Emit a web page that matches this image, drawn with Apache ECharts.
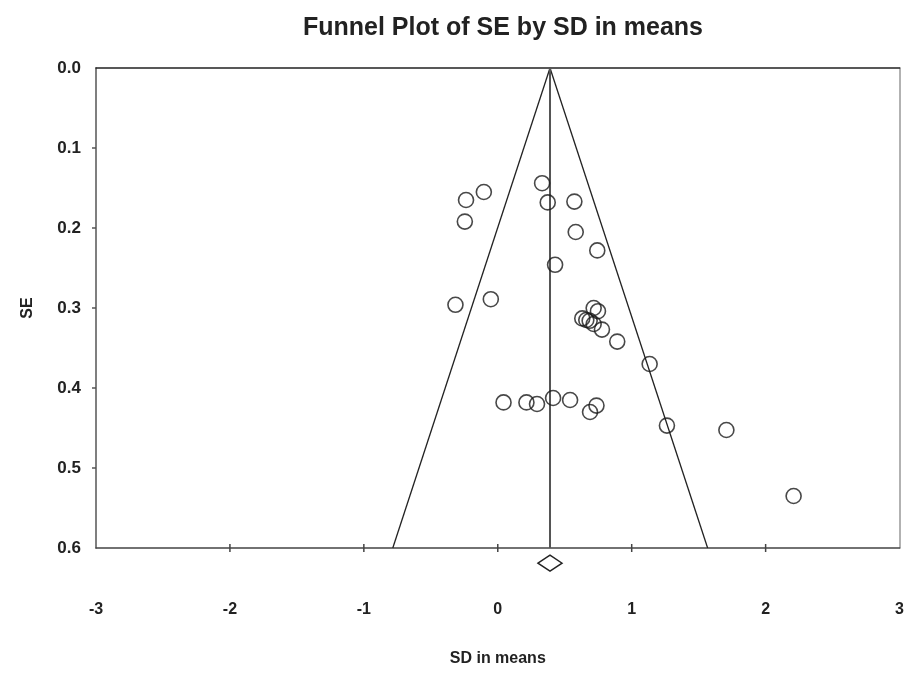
<!DOCTYPE html>
<html>
<head>
<meta charset="utf-8">
<script src="https://cdn.jsdelivr.net/npm/echarts@6/dist/echarts.min.js"></script>
<style>
  html, body { margin: 0; padding: 0; background: #fff; }
  #main { width: 907px; height: 676px; }
</style>
</head>
<body>
<div id="main"></div>
<script>
// study effect sizes (SD in means) and their standard errors
var effect = [0.331, -0.104, -0.237, 0.373, 0.572, -0.246, 0.582, 0.743, 0.428,
  -0.316, -0.052, 0.716, 0.748, 0.631, 0.661, 0.686, 0.716, 0.778, 0.892, 1.134,
  0.043, 0.214, 0.293, 0.413, 0.540, 0.737, 0.689, 1.263, 1.707, 2.209];
var stdErr = [0.144, 0.155, 0.165, 0.168, 0.167, 0.192, 0.205, 0.228, 0.246,
  0.296, 0.289, 0.300, 0.304, 0.313, 0.315, 0.316, 0.320, 0.327, 0.342, 0.370,
  0.418, 0.418, 0.420, 0.4125, 0.415, 0.422, 0.430, 0.447, 0.4525, 0.535];

// pooled estimate and its confidence interval (the diamond)
var pooled = 0.39;
var pooledLow = 0.30;
var pooledHigh = 0.48;

// funnel edges (95% limits)
var funnelLeft = [[0.39, 0], [-0.784, 0.6]];
var funnelRight = [[0.39, 0], [1.567, 0.6]];
var centerLine = [[0.39, 0], [0.39, 0.6]];

var xTicks = [-3, -2, -1, 0, 1, 2, 3];
var yTicks = [0.0, 0.1, 0.2, 0.3, 0.4, 0.5, 0.6];

var points = effect.map(function (v, i) { return [v, stdErr[i]]; });
var diamond = [[pooledLow, pooled, pooledHigh, 0.619]];
var xTickMarks = xTicks.slice(1, -1).map(function (v) { return [v, yTicks[yTicks.length - 1]]; });
var yTickMarks = yTicks.slice(1, -1).map(function (v) { return [xTicks[0], v]; });

var font = 'Liberation Sans, Arial, sans-serif';
var chart = echarts.init(document.getElementById('main'));
chart.setOption({
  animation: false,
  title: {
    text: 'Funnel Plot of SE by SD in means',
    left: 498,
    top: 11,
    textAlign: 'center',
    textStyle: { fontFamily: font, fontSize: 25, fontWeight: 'bold', color: '#222' }
  },
  grid: { left: 96, right: 6, top: 68, bottom: 128 },
  xAxis: [{
    type: 'value',
    position: 'bottom',
    min: xTicks[0], max: xTicks[xTicks.length - 1], interval: 1,
    name: 'SD in means',
    nameLocation: 'middle',
    nameGap: 103,
    nameTextStyle: { fontFamily: font, fontSize: 16, fontWeight: 'bold', color: '#222' },
    axisLine: { show: true, onZero: false, lineStyle: { color: '#444', width: 1.5 } },
    axisTick: { show: false },
    axisLabel: { margin: 54, fontFamily: font, fontSize: 16, fontWeight: 'bold', color: '#222' },
    splitLine: { show: false }
  }, {
    type: 'value',
    position: 'top',
    min: xTicks[0], max: xTicks[xTicks.length - 1],
    axisLine: { show: true, onZero: false, lineStyle: { color: '#222', width: 1.5 } },
    axisTick: { show: false },
    axisLabel: { show: false },
    splitLine: { show: false }
  }],
  yAxis: [{
    type: 'value',
    position: 'left',
    inverse: true,
    min: yTicks[0], max: yTicks[yTicks.length - 1], interval: 0.1,
    name: 'SE',
    nameLocation: 'middle',
    nameRotate: 90,
    nameGap: 60,
    nameTextStyle: { fontFamily: font, fontSize: 16, fontWeight: 'bold', color: '#222' },
    axisLine: { show: true, onZero: false, lineStyle: { color: '#555', width: 1.5 } },
    axisTick: { show: false },
    axisLabel: {
      margin: 15, fontFamily: font, fontSize: 17, fontWeight: 'bold', color: '#222',
      formatter: function (v) { return v.toFixed(1); }
    },
    splitLine: { show: false }
  }, {
    type: 'value',
    position: 'right',
    inverse: true,
    min: yTicks[0], max: yTicks[yTicks.length - 1],
    axisLine: { show: true, onZero: false, lineStyle: { color: '#999', width: 1.5 } },
    axisTick: { show: false },
    axisLabel: { show: false },
    splitLine: { show: false }
  }],
  series: [
    {
      type: 'line', data: funnelLeft, symbol: 'none', silent: true,
      lineStyle: { color: '#222', width: 1.3 }
    },
    {
      type: 'line', data: funnelRight, symbol: 'none', silent: true,
      lineStyle: { color: '#222', width: 1.3 }
    },
    {
      type: 'line', data: centerLine, symbol: 'none', silent: true,
      lineStyle: { color: '#555', width: 2 }
    },
    {
      type: 'scatter',
      data: points,
      symbol: 'circle',
      symbolSize: 15,
      itemStyle: { color: 'rgba(0,0,0,0)', borderColor: '#1a1a1a', borderWidth: 1.6 },
      z: 5
    },
    {
      // x ticks crossing the bottom axis line
      type: 'custom', clip: false, silent: true, data: xTickMarks,
      renderItem: function (params, api) {
        var p = api.coord([api.value(0), api.value(1)]);
        return {
          type: 'line',
          shape: { x1: p[0], y1: p[1] - 4, x2: p[0], y2: p[1] + 4 },
          style: { stroke: '#444', lineWidth: 1.5 }
        };
      }
    },
    {
      // y ticks outside the left axis line
      type: 'custom', clip: false, silent: true, data: yTickMarks,
      renderItem: function (params, api) {
        var p = api.coord([api.value(0), api.value(1)]);
        return {
          type: 'line',
          shape: { x1: p[0] - 4, y1: p[1], x2: p[0], y2: p[1] },
          style: { stroke: '#555', lineWidth: 1.5 }
        };
      }
    },
    {
      type: 'custom',
      clip: false,
      silent: true,
      data: diamond,
      renderItem: function (params, api) {
        var lo = api.coord([api.value(0), api.value(3)]);
        var mid = api.coord([api.value(1), api.value(3)]);
        var hi = api.coord([api.value(2), api.value(3)]);
        return {
          type: 'polygon',
          shape: { points: [[lo[0], lo[1]], [mid[0], mid[1] - 8], [hi[0], hi[1]], [mid[0], mid[1] + 8]] },
          style: { fill: 'none', stroke: '#222', lineWidth: 1.4 }
        };
      }
    }
  ]
});
</script>
</body>
</html>
